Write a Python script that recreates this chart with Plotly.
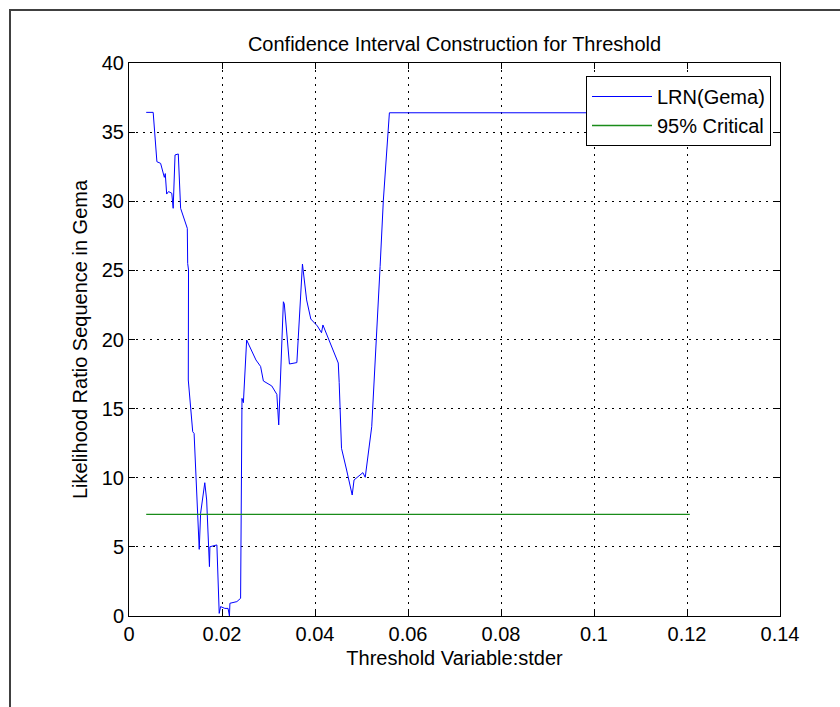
import plotly.graph_objects as go

# Likelihood ratio sequence LR_n(gamma) over candidate thresholds
threshold = [0.0037, 0.0052, 0.0060, 0.0068, 0.0076, 0.0078, 0.0081, 0.0085, 0.0092,
             0.0095, 0.0099, 0.0106, 0.0111, 0.01155, 0.0120, 0.01254, 0.01262, 0.0128,
             0.01275, 0.0137, 0.0140, 0.0149, 0.0151, 0.0154, 0.0163, 0.0167, 0.0173,
             0.0174, 0.0189, 0.0194, 0.0197, 0.0206, 0.0213, 0.0216, 0.0217, 0.0232,
             0.0240, 0.0243, 0.0246, 0.0253, 0.0273, 0.0283, 0.0289, 0.0307, 0.0318,
             0.0322, 0.0332, 0.0334, 0.0345, 0.0361, 0.0373, 0.0382, 0.0391, 0.0405,
             0.0414, 0.0417, 0.0450, 0.0452, 0.0457, 0.0468, 0.0480, 0.0484, 0.0503,
             0.0508, 0.0522, 0.0540, 0.0547, 0.0560, 0.1206]
lr_stat = [36.43, 36.43, 32.86, 32.74, 31.73, 32.0, 30.52, 30.70, 30.58,
           29.49, 33.35, 33.42, 29.49, 29.0, 28.64, 28.04, 25.5, 25.03,
           17.07, 13.33, 13.2, 5.5, 4.82, 7.43, 9.64, 8.39, 3.57,
           5.01, 5.14, 0.19, 0.68, 0.55, 0.55, 0.0, 0.92, 1.04,
           1.28, 15.74, 15.43, 19.96, 18.52, 18.05, 17.0, 16.64, 16.03,
           13.82, 22.73, 22.57, 18.23, 18.33, 25.46, 22.86, 21.48, 20.98,
           20.49, 21.05, 18.30, 16.9, 12.13, 10.56, 8.75, 9.84, 10.37,
           10.03, 13.69, 25.27, 30.09, 36.40, 36.40]

# 95% asymptotic critical value
crit_x = [0.0037, 0.1206]
crit_y = [7.35, 7.35]

x_ticks = [0, 0.02, 0.04, 0.06, 0.08, 0.1, 0.12, 0.14]
x_tick_text = ["0", "0.02", "0.04", "0.06", "0.08", "0.1", "0.12", "0.14"]
y_ticks = [0, 5, 10, 15, 20, 25, 30, 35, 40]

FONT = "Liberation Sans, Arial, sans-serif"

fig = go.Figure()
fig.add_trace(go.Scatter(x=threshold, y=lr_stat, mode="lines", name="LRN(Gema)",
                         line=dict(color="#0000ff", width=1)))
fig.add_trace(go.Scatter(x=crit_x, y=crit_y, mode="lines", name="95% Critical",
                         line=dict(color="#1a8c1a", width=1.3)))

axis_common = dict(
    showline=True, linecolor="black", linewidth=1, mirror="ticks",
    ticks="inside", ticklen=6, tickcolor="black", tickwidth=1,
    showgrid=True, gridcolor="black", gridwidth=1, griddash="1.5px,5.5px",
    zeroline=False, tickfont=dict(family=FONT, size=20, color="black"),
)

fig.update_layout(
    width=840, height=707,
    margin=dict(l=129, r=60, t=63, b=91),
    paper_bgcolor="white", plot_bgcolor="white",
    font=dict(family=FONT, color="black"),
    title=dict(text="Confidence Interval Construction for Threshold",
               font=dict(family=FONT, size=20, color="black"),
               x=(129 + 780) / 2 / 840, xanchor="center",
               y=1 - 44 / 707, yanchor="middle"),
    xaxis=dict(range=[0, 0.14], tickvals=x_ticks, ticktext=x_tick_text,
               title=dict(text="Threshold Variable:stder",
                          font=dict(family=FONT, size=20), standoff=6),
               **axis_common),
    yaxis=dict(range=[0, 40], tickvals=y_ticks,
               title=dict(text="Likelihood Ratio Sequence in Gema",
                          font=dict(family=FONT, size=20), standoff=8),
               **axis_common),
    legend=dict(x=(771 - 129) / 651, xanchor="right", y=1 - (76 - 63) / 553, yanchor="top",
                bgcolor="white", bordercolor="black", borderwidth=1,
                font=dict(family=FONT, size=20, color="black"),
                itemwidth=60, tracegroupgap=0),
    showlegend=True,
    shapes=[dict(type="rect", xref="paper", yref="paper",
                 x0=(10 - 129) / 651, x1=(850 - 129) / 651,
                 y0=(616 - 720) / 553, y1=1 + (63 - 10) / 553,
                 line=dict(color="#404040", width=2), layer="below")],
)

fig.write_html("out.html")
